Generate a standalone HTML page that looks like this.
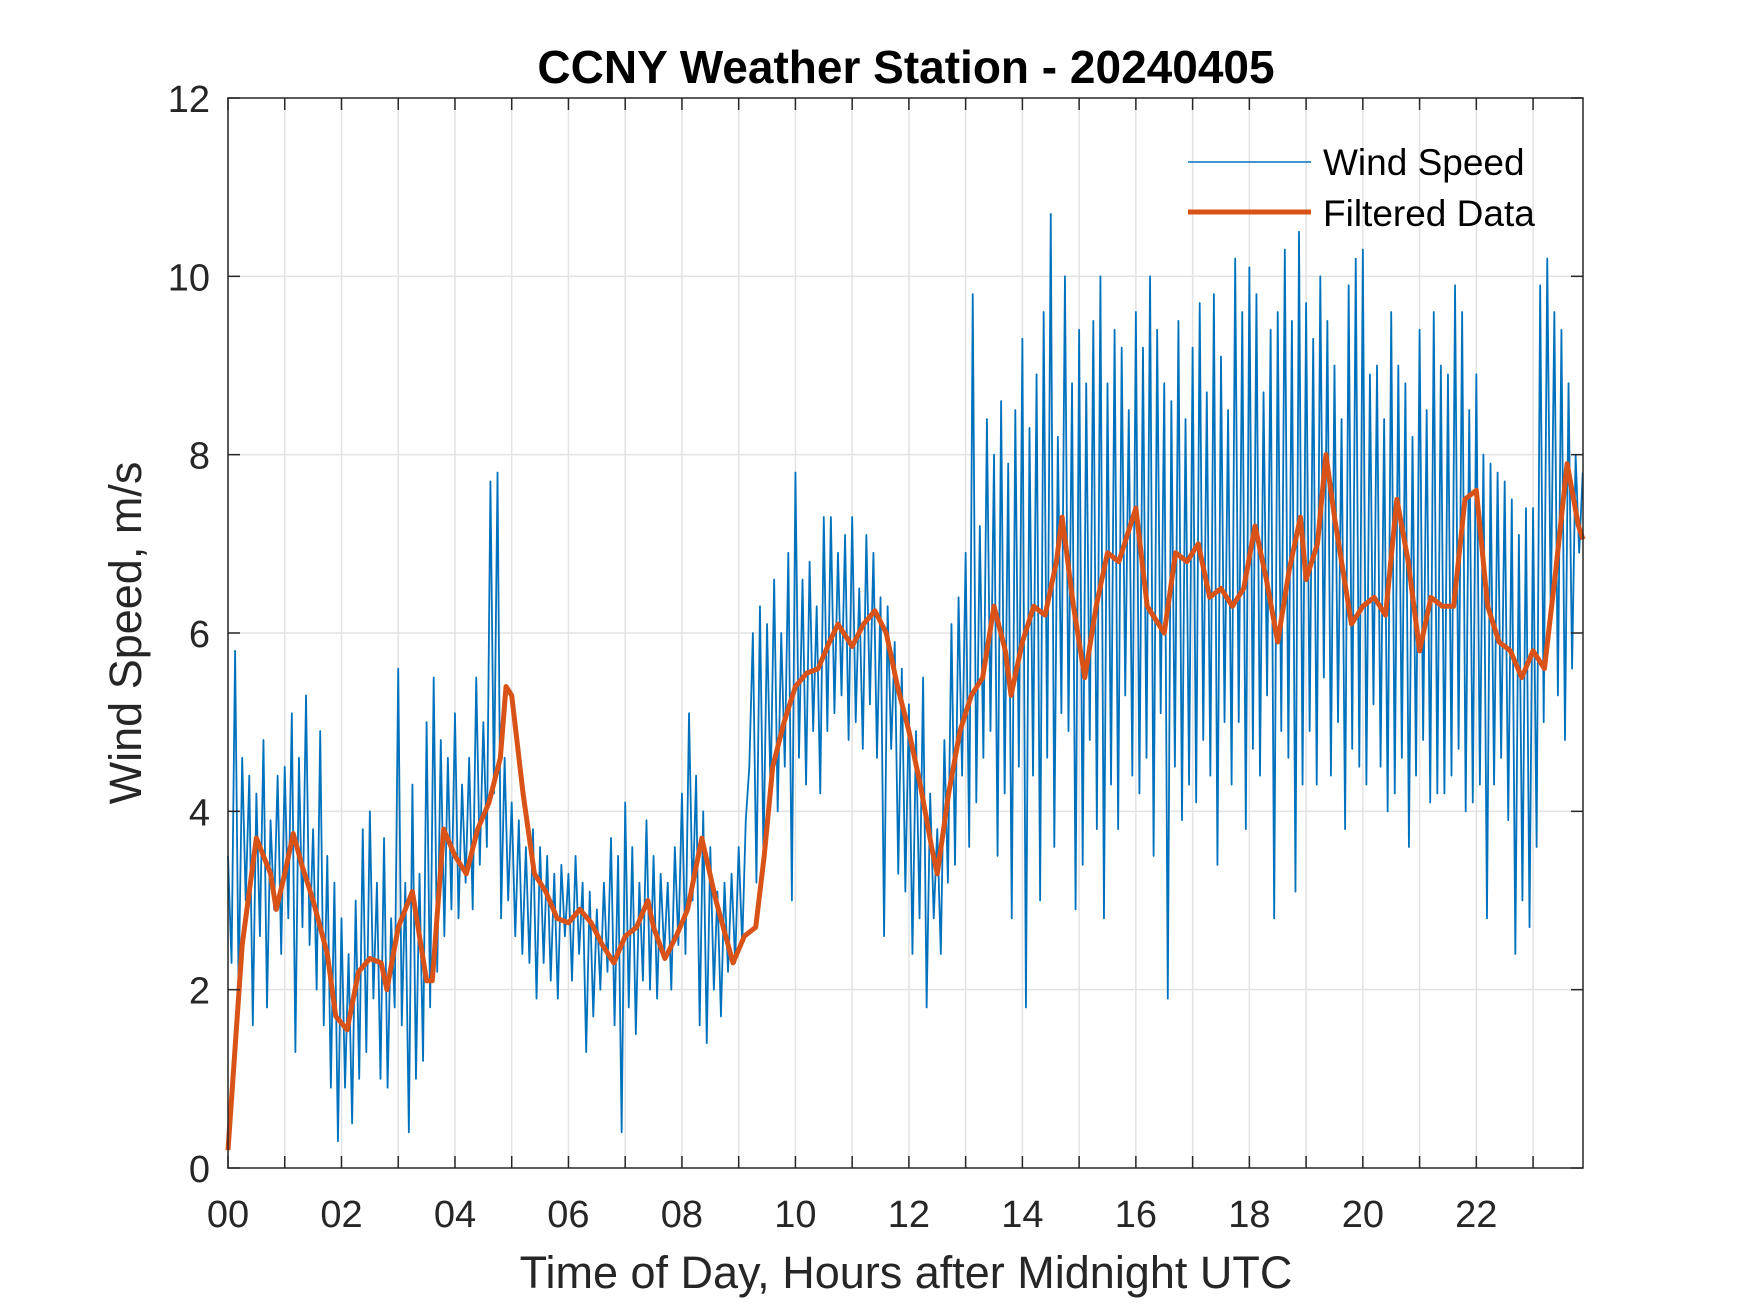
<!DOCTYPE html>
<html><head><meta charset="utf-8"><style>
body{margin:0;background:#fff}
svg{display:block;font-family:"Liberation Sans",Arial,sans-serif}
</style></head><body>
<svg id="chart" width="1750" height="1313" viewBox="0 0 1750 1313">
<rect width="1750" height="1313" fill="#fff"/>
<g id="grid"></g>
<g id="series"></g>
<g id="axes"></g>
<text x="906" y="83" text-anchor="middle" font-size="46" font-weight="bold" fill="#000">CCNY Weather Station - 20240405</text>
<text x="906" y="1288" text-anchor="middle" font-size="45" fill="#262626">Time of Day, Hours after Midnight UTC</text>
<text transform="translate(141,633) rotate(-90)" text-anchor="middle" font-size="45" fill="#262626">Wind Speed, m/s</text>
<g>
<line x1="1188" y1="162" x2="1311" y2="162" stroke="#0072bd" stroke-width="1.5"/>
<text x="1323" y="175" font-size="37" fill="#000">Wind Speed</text>
<line x1="1188" y1="212" x2="1311" y2="212" stroke="#d95319" stroke-width="5"/>
<text x="1323" y="226" font-size="37" fill="#000">Filtered Data</text>
</g>
</svg>
<script>
const windSpeed = [
3.5,2.3,5.8,2.0,4.6,3.0,4.4,1.6,4.2,2.6,4.8,1.8,3.9,2.9,4.4,2.4,
4.5,2.8,5.1,1.3,4.6,2.7,5.3,2.5,3.8,2.0,4.9,1.6,3.5,0.9,3.2,0.3,
2.8,0.9,2.4,0.5,3.0,1.0,3.8,1.3,4.0,1.9,3.2,1.0,3.7,0.9,2.8,1.8,
5.6,1.6,3.2,0.4,4.3,1.0,3.3,1.2,5.0,1.8,5.5,2.2,4.8,2.6,4.6,2.9,
5.1,2.8,4.3,3.2,4.6,2.9,5.5,3.4,5.0,3.6,7.7,4.2,7.8,2.8,4.6,3.0,
4.1,2.6,3.9,2.4,3.6,2.3,3.8,1.9,3.6,2.3,3.5,2.1,3.3,1.9,3.4,2.6,
3.3,2.1,3.5,2.4,3.2,1.3,3.1,1.7,2.9,2.0,3.2,2.2,3.7,1.6,3.5,0.4,
4.1,1.8,3.6,1.5,3.2,2.1,3.9,2.0,3.5,1.9,3.3,2.4,3.2,2.0,3.6,2.5,
4.2,2.4,5.1,3.0,4.4,1.6,4.0,1.4,3.6,2.0,3.1,1.7,3.2,2.2,3.3,2.3,
3.6,2.5,3.9,4.5,6.0,3.2,6.3,3.5,6.1,4.2,6.6,4.0,6.0,4.5,6.9,3.0,
7.8,4.6,6.6,4.3,6.8,4.9,6.3,4.2,7.3,4.9,7.3,5.1,6.9,5.3,7.1,4.8,
7.3,5.0,6.5,4.7,7.1,5.2,6.9,4.6,6.4,2.6,6.3,4.7,5.9,3.3,5.6,3.1,
5.2,2.4,4.9,2.8,5.5,1.8,4.2,2.8,3.8,2.4,4.8,3.2,6.1,3.4,6.4,4.4,
6.9,3.6,9.8,4.1,7.2,4.6,8.4,4.9,8.0,3.5,8.6,4.2,7.9,2.8,8.5,4.5,
9.3,1.8,8.3,4.4,8.9,3.0,9.6,4.6,10.7,3.6,8.2,5.1,10.0,4.9,8.8,2.9,
9.4,3.4,8.8,4.8,9.5,3.8,10.0,2.8,8.8,4.3,9.4,3.8,9.2,5.3,8.5,4.4,
9.6,4.2,9.2,4.6,10.0,3.5,9.4,5.1,8.8,1.9,8.6,4.5,9.5,3.9,8.4,4.3,
9.2,4.1,9.7,4.8,8.7,4.4,9.8,3.4,9.1,5.0,8.5,4.3,10.2,5.0,9.6,3.8,
10.1,4.7,9.8,4.4,8.7,5.3,9.4,2.8,9.6,4.9,10.3,4.6,9.5,3.1,10.5,4.3,
9.7,4.9,9.3,4.3,10.0,5.5,9.5,4.4,9.0,5.0,8.4,3.8,9.9,4.7,10.2,4.5,
10.3,4.3,8.9,5.2,9.0,4.5,8.4,4.0,9.6,4.2,9.0,4.6,8.8,3.6,8.2,4.4,
9.4,4.8,8.5,4.1,9.6,4.2,9.0,4.2,8.9,4.4,9.9,4.7,9.6,4.0,8.5,4.1,
8.9,4.3,8.0,2.8,7.9,4.3,7.8,4.6,7.7,3.9,7.5,2.4,7.1,3.0,7.4,2.7,
7.4,3.6,9.9,5.0,10.2,6.2,9.6,5.3,9.4,4.8,8.8,5.6,8.0,6.9,7.8
];
const filtHours = [0,0.25,0.5,0.75,0.85,1.0,1.15,1.3,1.5,1.75,1.9,2.1,2.3,2.5,2.7,2.8,3.0,3.25,3.4,3.5,3.6,3.8,4.0,4.2,4.4,4.6,4.8,4.9,5.0,5.2,5.4,5.6,5.8,6.0,6.2,6.4,6.6,6.8,7.0,7.2,7.4,7.5,7.7,7.9,8.1,8.35,8.6,8.9,9.1,9.3,9.45,9.6,9.8,10.0,10.2,10.4,10.6,10.75,11.0,11.2,11.4,11.6,11.8,12.0,12.2,12.4,12.5,12.7,12.9,13.1,13.3,13.5,13.7,13.8,14.0,14.2,14.4,14.6,14.7,14.9,15.1,15.3,15.5,15.7,16.0,16.2,16.5,16.7,16.9,17.1,17.3,17.5,17.7,17.9,18.1,18.3,18.5,18.7,18.9,19.0,19.2,19.35,19.5,19.8,20.0,20.2,20.4,20.6,20.8,21.0,21.2,21.4,21.6,21.8,22.0,22.2,22.4,22.6,22.8,23.0,23.2,23.4,23.6,23.8,23.88];
const filtValues = [0.2,2.5,3.7,3.3,2.9,3.3,3.75,3.4,3.0,2.4,1.7,1.55,2.2,2.35,2.3,2.0,2.7,3.1,2.5,2.1,2.1,3.8,3.5,3.3,3.8,4.1,4.6,5.4,5.3,4.2,3.3,3.1,2.8,2.75,2.9,2.75,2.5,2.3,2.6,2.7,3.0,2.7,2.35,2.6,2.9,3.7,3.0,2.3,2.6,2.7,3.5,4.5,5.0,5.4,5.55,5.6,5.9,6.1,5.85,6.1,6.25,6.0,5.4,4.9,4.3,3.6,3.3,4.2,4.9,5.3,5.5,6.3,5.8,5.3,5.9,6.3,6.2,6.8,7.3,6.3,5.5,6.3,6.9,6.8,7.4,6.3,6.0,6.9,6.8,7.0,6.4,6.5,6.3,6.5,7.2,6.6,5.9,6.7,7.3,6.6,7.0,8.0,7.3,6.1,6.3,6.4,6.2,7.5,6.8,5.8,6.4,6.3,6.3,7.5,7.6,6.3,5.9,5.8,5.5,5.8,5.6,6.7,7.9,7.2,7.05];
const yTicks = [0,2,4,6,8,10,12];
const xTickLabels = ["00","02","04","06","08","10","12","14","16","18","20","22"];

const L=228,R=1583,T=98,B=1168,XMAX=23.88,YMAX=12;
const xs=h=>L+h*(R-L)/XMAX, ys=v=>B-v*(B-T)/YMAX;
const NS="http://www.w3.org/2000/svg";
function mk(tag,attrs,parent){const e=document.createElementNS(NS,tag);for(const k in attrs)e.setAttribute(k,attrs[k]);parent.appendChild(e);return e;}
const grid=document.getElementById('grid'),axes=document.getElementById('axes'),series=document.getElementById('series');
for(let h=0;h<=23;h++){const x=xs(h);
 let g=mk('line',{x1:x,y1:T,x2:x,y2:B,stroke:'#e3e3e3','stroke-width':1.5},grid);
 
 
 let t1=mk('line',{x1:x,y1:B,x2:x,y2:B-12,stroke:'#262626','stroke-width':1.5},axes);
 
 
 let t2=mk('line',{x1:x,y1:T,x2:x,y2:T+12,stroke:'#262626','stroke-width':1.5},axes);
 
 
}
xTickLabels.forEach((s,i)=>{const t=mk('text',{x:xs(i*2),y:1227,'text-anchor':'middle','font-size':38,fill:'#262626'},axes);t.textContent=s;
 
 });
yTicks.forEach(v=>{const y=ys(v);
 if(v>0&&v<12){let g=mk('line',{x1:L,y1:y,x2:R,y2:y,stroke:'#e3e3e3','stroke-width':1.5},grid);
 
 }
 let a=mk('line',{x1:L,y1:y,x2:L+12,y2:y,stroke:'#262626','stroke-width':1.5},axes);
 
 
 let b=mk('line',{x1:R,y1:y,x2:R-12,y2:y,stroke:'#262626','stroke-width':1.5},axes);
 
 
 const t=mk('text',{x:210,y:y+14,'text-anchor':'end','font-size':38,fill:'#262626'},axes);t.textContent=v;
 
 });
const box=mk('rect',{x:L,y:T,width:R-L,height:B-T,fill:'none',stroke:'#262626','stroke-width':1.5},axes);


const wp=mk('polyline',{points:windSpeed.map((v,i)=>xs(i/16)+','+ys(v)).join(' '),fill:'none',stroke:'#0072bd','stroke-width':1.8,'stroke-linejoin':'round'},series);


const fp=mk('polyline',{points:filtValues.map((v,i)=>xs(filtHours[i])+','+ys(v)).join(' '),fill:'none',stroke:'#d95319','stroke-width':5,'stroke-linejoin':'round'},series);


</script>
</body></html>
